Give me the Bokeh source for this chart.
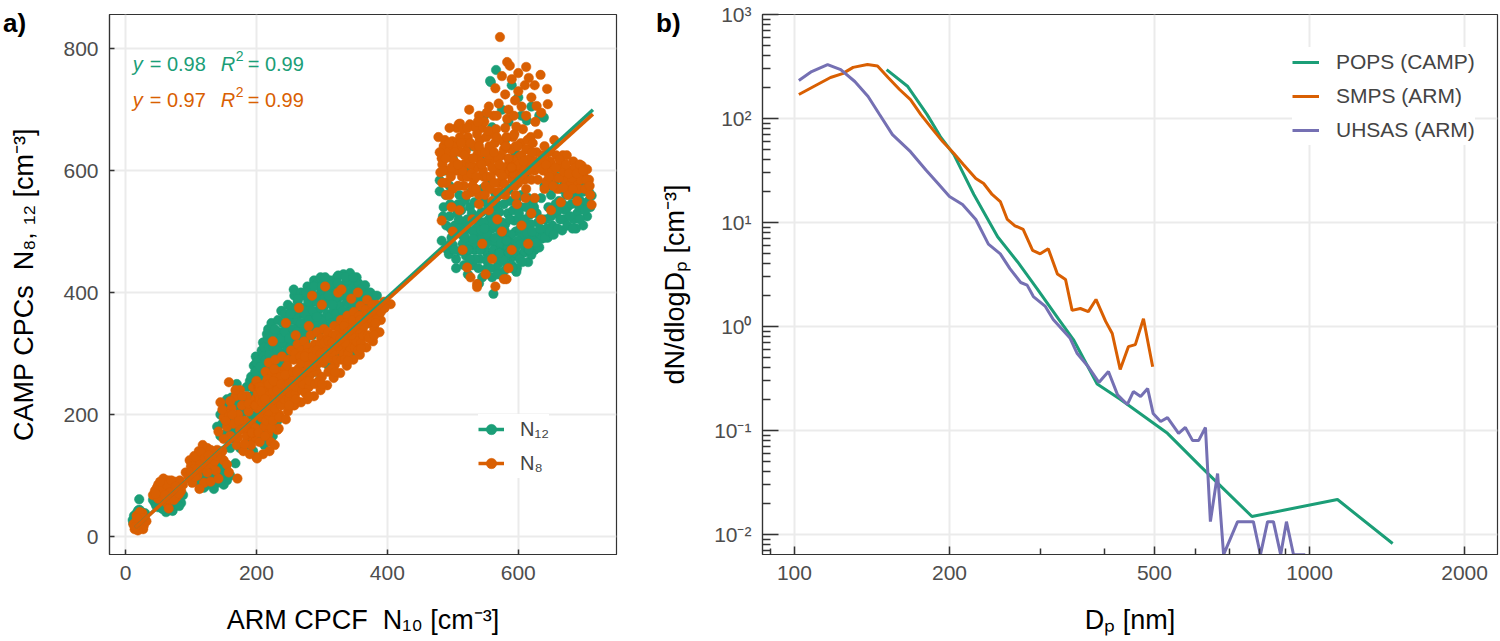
from bokeh.plotting import figure
from bokeh.models import (Range1d, FixedTicker, CustomJSTickFormatter, NumeralTickFormatter,
                          Legend, LegendItem, Label, Div)
from bokeh.layouts import row
from bokeh.embed import file_html
from bokeh.resources import INLINE

GREEN = "#1b9e77"
ORANGE = "#d95f02"
PURPLE = "#7570b3"
FONT = "Liberation Sans"

# ---------------- panel a) data: (ARM CPCF N10, CAMP CPC) pairs
N12_A = [(12,22),(15,30),(18,25),(20,35),(22,28),(25,40),(14,18),(17,38),(24,20),(28,33),(21,44),(26,27),
         (13,34),(19,15),(30,38),(21,61),(11,27),(16,28),(23,34),(19,42)]
N8_A = [(14,12),(18,18),(22,14),(25,22),(20,28),(16,24),(28,18),(30,28),(12,20),(24,32),(27,12),(19,10),
        (32,25),(17,34),(26,38),(22,40),(20,20),(23,26),(15,16),(26,30),(18,30)]
N12_B = [(45,55),(50,48),(55,62),(60,52),(65,45),(70,58),(75,50),(80,62),(58,70),(68,68),(85,55),(48,65),
         (62,40),(72,42),(78,72),(52,75),(88,68),(42,60),(66,60),(56,50),(53,57),(63,58),(73,53),(47,50),
         (57,45),(67,52),(77,58),(82,50)]
N8_B = [(42,68),(48,80),(55,88),(60,78),(65,92),(70,85),(75,90),(80,80),(85,75),(52,72),(62,66),(72,74),
        (88,85),(58,95),(45,75),(68,78),(78,65),(83,92),(50,62),(63,55),(74,60),(66,46),(50,85),(57,80),
        (63,85),(70,92),(77,82),(82,70),(53,90),(67,72),(60,68),(46,70)]
N12_C = [(110,90),(118,100),(125,85),(132,95),(140,88),(148,100),(155,92),(128,110),(138,115),(145,108),
         (120,80),(135,78),(150,85),(160,100),(115,105),(142,122),(130,125),(122,95),(153,112),(168,120),
         (105,95),(137,102),(126,118),(146,93),(112,115),(116,92),(124,102),(134,88),(144,96),(152,105),
         (128,98),(140,112),(118,120),(133,105),(147,115)]
N8_C = [(92,105),(98,125),(105,132),(112,140),(118,150),(125,145),(132,138),(100,115),(108,120),(115,128),
        (122,135),(128,125),(135,130),(140,142),(145,135),(96,98),(104,110),(110,100),(118,112),(125,105),
        (133,118),(138,108),(142,95),(150,125),(155,118),(158,105),(120,88),(113,78),(130,90),(171,95),
        (148,140),(102,88),(100,105),(108,130),(116,138),(124,118),(130,142),(106,98),(114,118),(121,128),
        (136,124),(127,133),(110,110),(140,132)]
N12_D = [(145,200),(150,215),(155,225),(160,205),(165,220),(170,235),(148,185),(158,190),(168,195),(175,210),
         (180,225),(185,245),(190,230),(195,215),(200,200),(205,185),(210,170),(215,160),(220,175),(225,165),
         (230,180),(212,150),(198,165),(188,175),(178,180),(165,160),(155,170),(145,165),(175,145),(185,150),
         (195,140),(160,145),(140,180),(205,230),(215,205),(225,195),(190,255),(200,248),(232,190),(170,250),
         (152,205),(162,228),(172,218),(182,205),(192,198),(202,188),(212,195),(222,185),(207,165),(187,160),
         (167,175),(177,195),(157,180),(217,220),(196,232)]
N8_D = [(150,195),(155,180),(162,210),(168,230),(172,200),(178,215),(182,190),(188,205),(192,185),(198,178),
        (202,210),(208,195),(212,180),(218,168),(222,155),(228,150),(232,175),(220,140),(210,135),(200,130),
        (190,135),(180,140),(170,150),(160,165),(150,160),(142,172),(185,165),(195,160),(205,155),(215,190),
        (225,210),(175,175),(165,185),(158,200),(145,220),(158,253),(234,177),(201,128),(235,200),(185,230),
        (195,245),(175,240),(153,190),(163,200),(173,190),(183,178),(193,170),(203,170),(213,165),(223,178),
        (228,195),(218,200),(208,215),(198,225),(188,218),(178,230),(168,240),(148,208),(160,222),(192,150),
        (182,152),(172,162)]
N12_E = [(192,262),(196,280),(199,295),(194,245),(203,270),(206,290),(208,305),(204,255),(210,318),
         (213,280),(215,300),(217,325),(214,265),(218,340),(212,310),(222,285),(224,305),(226,330),(223,350),
         (228,295),(227,318),(232,290),(234,312),(236,335),(233,355),(238,370),(237,300),(231,325),
         (242,300),(244,320),(246,345),(243,365),(248,380),(247,310),(241,335),(252,310),(254,330),(256,355),
         (253,375),(258,395),(257,405),(251,340),(259,320),(262,320),(264,345),(266,365),(263,385),(268,400),
         (267,335),(261,355),(272,330),(274,350),(276,375),(273,395),(278,410),(277,340),(271,365),
         (282,340),(284,360),(286,385),(283,405),(288,420),(287,350),(281,372),(292,345),(294,370),(296,395),
         (293,415),(298,425),(297,358),(291,385),(302,355),(304,378),(306,400),(303,418),(308,365),(307,390),
         (312,360),(314,385),(316,405),(313,420),(318,370),(317,395),(322,365),(324,390),(326,410),(323,425),
         (328,378),(327,345),(332,370),(334,395),(336,415),(333,430),(338,385),(337,350),(342,380),(344,400),
         (346,420),(343,432),(348,360),(347,410),(352,375),(354,395),(356,415),(353,425),(358,385),(357,355),
         (362,380),(364,400),(366,412),(368,365),(367,390),(372,385),(374,400),(376,370),(378,395),(371,350),
         (382,380),(384,395),(386,372),(230,250),(250,260),(270,280),(300,290),(320,300),(340,320),(260,240),
         (290,270),(310,280),(345,300),(216,332),
         (200,285),(207,262),(211,295),(219,310),(221,272),(229,338),(235,280),(239,318),(245,290),(249,355),
         (255,300),(259,365),(265,310),(269,375),(275,320),(279,385),(285,330),(289,395),(295,335),(299,405),
         (305,345),(309,410),(315,350),(319,415),(325,355),(329,400),(335,362),(339,420),(345,370),(349,390),
         (355,368),(359,405),(365,372),(369,395),(375,380),(379,362),(305,425),(325,428),(280,395),(260,372),
         (198,270),(206,278),(214,290),(220,298),(226,310),(232,305),(238,325),(244,335),(250,325),(256,340),
         (262,335),(268,350),(274,365),(280,355),(286,370),(292,360),(298,375),(304,390),(310,395),(316,380),
         (322,400),(328,395),(334,405),(340,395),(346,385),(352,400),(358,395),(364,390),(370,375),(252,365),
         (264,390),(276,400),(288,410),(300,410),(312,412),(324,415),(336,425),(348,425),(240,350),(228,340)]
N8_E = [(198,215),(202,235),(200,255),(205,225),(203,245),(208,210),(210,230),(212,250),(214,270),(209,220),
        (213,240),(218,205),(220,225),(222,245),(224,265),(219,285),(223,215),(228,210),(230,230),(232,250),
        (234,270),(229,290),(233,220),(231,260),(238,215),(240,235),(242,255),(244,275),(239,295),(243,225),
        (241,265),(248,205),(250,225),(252,245),(254,265),(249,290),(253,305),(251,235),(258,215),(260,235),
        (262,255),(264,275),(259,300),(263,315),(261,245),(268,220),(270,240),(272,260),(274,285),(269,305),
        (273,320),(271,250),(278,225),(280,245),(282,265),(284,290),(279,310),(283,330),(281,255),(288,230),
        (290,250),(292,270),(294,295),(289,315),(293,335),(291,280),(298,240),(300,262),(302,285),(304,305),
        (299,325),(303,340),(308,248),(310,270),(312,292),(314,315),(309,335),(313,300),(318,260),(320,282),
        (322,305),(324,325),(319,345),(323,290),(328,268),(330,290),(332,312),(334,335),(329,355),(333,300),
        (338,280),(340,300),(342,322),(344,345),(339,362),(343,310),(348,290),(350,310),(352,330),(354,352),
        (349,368),(353,320),(358,298),(360,318),(362,340),(364,360),(359,378),(363,330),(368,310),(370,330),
        (372,350),(374,372),(369,388),(378,320),(380,340),(382,362),(384,380),(379,352),(388,335),(390,355),
        (392,372),(395,385),(405,381),(225,320),(245,350),(265,375),(285,395),(305,410),(325,400),(345,390),
        (300,380),(280,345),(260,330),(330,405),(355,400),(225,190),(235,195),(245,192),
        (205,245),(215,230),(217,258),(225,238),(227,275),(235,242),(237,262),(245,245),(247,280),(255,255),
        (257,290),(265,262),(267,295),(275,270),(277,300),(285,278),(287,305),(295,285),(297,315),(305,292),
        (307,322),(315,302),(317,330),(325,312),(327,340),(335,318),(337,350),(345,330),(347,355),(355,340),
        (357,362),(365,350),(367,372),(375,358),(377,380),(385,360),(387,378),(255,215),(275,235),(295,255),
        (315,275),(335,290),(355,305),(372,325),
        (207,238),(213,225),(219,250),(226,255),(232,240),(238,250),(244,265),(250,250),(256,270),(262,270),
        (268,285),(274,295),(280,280),(286,295),(292,305),(298,300),(304,318),(310,320),(316,318),(322,330),
        (328,325),(334,345),(340,335),(346,340),(352,345),(358,355),(364,345),(370,365),(376,368),(382,350),
        (390,368),(396,375),(260,225),(280,230),(300,250),(320,270),(340,288),(360,308),(380,330),(250,215)]
N12_F = [(492,470),(498,490),(503,510),(507,530),(512,545),(505,455),(515,480),(518,500),(522,520),(526,540),
         (520,460),(530,445),(533,470),(536,492),(540,512),(544,532),(548,550),(541,455),(550,438),(553,462),
         (556,484),(560,505),(563,525),(567,545),(560,425),(570,448),(573,470),(576,492),(580,512),(584,530),
         (588,550),(578,435),(590,458),(593,480),(596,500),(600,520),(604,540),(598,440),(608,465),(611,488),
         (614,508),(618,528),(622,548),(615,450),(625,470),(628,495),(630,515),(495,525),(510,560),(528,565),
         (545,570),(565,562),(585,568),(605,560),(562,398),(597,434),(523,430),(540,415),(583,445),(555,520),
         (535,505),(575,515),(595,465),(515,515),(546,490),(606,495),(566,478),(586,492),(620,490),
         (480,584),(480,566),(483,485),(494,463),(486,540),(490,510),(488,600),(495,575),
         (632,474),(638,500),(642,520),(646,540),(650,560),(655,580),(645,490),(652,510),(658,530),(662,550),
         (667,502),(670,520),(675,540),(680,560),(685,575),(690,530),(695,550),(699,510),(703,545),(708,565),
         (712,559),(700,575),(665,570),(688,505),(640,575),(660,590),(678,590),(696,590),(710,540),
         (520,600),(545,615),(570,600),(595,630),(610,595),(530,640),(500,620),(580,650),(620,615),(555,585),
         (560,671),(639,687),(585,680),(613,682),(566,765),(558,745),(557,747),(600,720),(620,705),(575,700),
         (590,740),(632,690),(605,690),(548,690),
         (500,478),(506,498),(511,468),(516,492),(521,508),(527,482),(531,500),(537,478),(543,502),(549,470),
         (553,495),(558,515),(564,490),(569,462),(574,482),(579,502),(584,475),(589,495),(594,518),(599,485),
         (603,505),(609,478),(613,498),(619,512),(624,485),(508,545),(519,552),(533,548),(553,545),(571,532),
         (592,535),(612,540),(628,530),(539,440),(552,452),(566,440),(580,458),(602,455),(517,445),(505,440),
         (545,425),(575,428),(590,445),(620,462),(635,488),(643,505),(650,525),(657,545),(664,520),(672,535),
         (681,545),(693,540),(705,525),(675,510),(660,505),(685,520),(698,565),(670,578),(650,575),(635,555),
         (497,505),(502,470),(509,520),(513,535),(524,470),(529,530),(534,455),(538,525),(547,515),(551,480),
         (557,440),(562,470),(565,510),(572,500),(577,455),(582,485),(587,520),(591,440),(597,475),(601,530),
         (606,450),(610,520),(616,470),(621,500),(627,482),(633,505),(637,520),(641,490),(648,500),(654,495),
         (661,535),(668,545),(673,560),(679,525),(683,505),(690,560),(694,520),(702,535),(707,550),(526,455),
         (519,490),(542,470),(557,530),(571,465),(586,465),(604,480),(568,430),(548,505),(531,488),(511,505),
         (503,540),(496,545),(489,560),(485,525),(560,540),(578,545),(597,552),(615,555),(624,540)]
N8_F = [(478,655),(481,597),(483,620),(486,640),(490,580),(493,600),(496,625),(499,648),(504,646),(506,670),
        (509,676),(511,677),(514,590),(517,610),(520,632),(523,655),(526,676),(529,565),(532,585),(535,605),
        (538,628),(541,650),(544,670),(547,590),(550,575),(553,615),(556,640),(559,660),(562,690),(565,600),
        (568,565),(571,580),(574,625),(577,648),(580,670),(583,595),(586,612),(589,635),(592,655),(595,575),
        (598,600),(601,622),(604,645),(607,668),(610,585),(613,610),(616,635),(619,655),(490,560),(500,570),
        (512,630),(527,610),(545,630),(562,620),(578,605),(592,618),(505,600),(522,590),(540,560),(560,550),
        (580,560),(600,580),(620,585),(540,690),(525,700),(495,670),
        (572,819),(583,778),(587,772),(575,755),(634,757),(616,752),(644,734),(645,709),(628,706),(590,750),
        (600,730),(610,740),(595,715),(580,725),(565,735),(620,720),(605,705),(585,700),(635,695),(570,710),
        (555,705),(600,760),(625,740),(612,770),
        (625,600),(630,585),(635,615),(640,570),(645,598),(650,612),(655,590),(660,570),(664,605),(668,625),
        (672,585),(676,560),(680,600),(684,615),(688,580),(692,570),(697,608),(705,602),(712,544),(674,625),
        (700,590),(708,585),(658,625),(690,550),(646,630),(665,548),(685,595),(640,640),(655,650),(630,660),
        (483,518),(522,441),(537,414),(582,422),(527,425),(537,409),(578,422),(500,500),(515,470),(530,520),
        (545,480),(560,455),(575,500),(590,470),(605,510),(620,530),(555,535),(510,535),(568,520),(598,545),
        (540,545),(625,555),(615,480),(498,540),(635,520),(650,535),(585,440),(550,430),(565,410),
        (484,610),(488,650),(492,630),(497,590),(502,615),(507,635),(511,655),(515,600),(519,645),(524,620),
        (528,595),(533,640),(537,660),(542,615),(546,600),(551,655),(555,625),(560,605),(564,645),(569,620),
        (573,595),(578,635),(582,655),(587,600),(591,585),(596,640),(600,610),(605,625),(609,600),(614,650),
        (618,620),(500,640),(516,668),(532,672),(548,680),(566,668),(583,685),(597,672),(622,645),(628,630),
        (638,600),(643,582),(652,600),(662,588),(670,598),(678,575),(687,605),(695,585),(702,570),(710,560),
        (666,612),(682,588),(648,615),(530,575),(552,590),(572,565),(593,595),(612,570),(557,570),(517,575),
        (480,630),(485,600),(489,620),(494,645),(498,605),(503,630),(508,610),(513,645),(518,625),(522,670),
        (527,645),(531,620),(536,590),(540,640),(544,610),(549,630),(554,665),(558,590),(563,630),(567,655),
        (571,610),(576,590),(581,640),(585,620),(590,605),(594,660),(599,640),(603,590),(608,615),(612,635),
        (617,600),(621,630),(626,615),(632,605),(637,625),(642,610),(647,590),(653,575),(657,605),(663,618),
        (669,572),(673,610),(677,595),(683,570),(689,595),(694,610),(699,600),(704,585),(709,575),(484,580),
        (495,560),(508,575),(521,560),(535,570),(549,560),(563,580),(579,578),(596,560),(611,555),(567,690),
        (552,695),(538,680),(593,690),(612,690),(626,680)]

SLOPE_N12 = 0.98
SLOPE_N8 = 0.97
R2_N12 = 0.99
R2_N8 = 0.99
FIT_X = [15, 714]

A_XTICKS = [0, 200, 400, 600]
A_YTICKS = [0, 200, 400, 600, 800]

# ---------------- panel b) data: size distributions
POPS_D = [151,166,181,192,204,223,248,271,296,326,348,387,429,530,615,773,1133,1450]
POPS_V = [295,203,109,67,45,18.6,7.3,4.2,2.3,1.17,0.75,0.28,0.20,0.094,0.045,0.0149,0.0217,0.0082]
SMPS_D = [102,109,117.5,124,130,138.6,145,152,160,168,176,185,194,204,213,225,233,242,251,259,268,278,
          290,300,311,324,336,346,359,372,385,402,414,429,445,459,476,496]
SMPS_V = [170,203,248,270,310,330,320,248,190,152,109,80,60,46,36,26.5,23.7,18.6,15.9,10.7,9.3,8.6,
          5.4,5.0,5.6,3.2,2.83,1.43,1.49,1.39,1.82,1.12,0.857,0.386,0.64,0.67,1.19,0.41]
UHSAS_D = [102,108,116,123,131,139,146,155,168,180,190,200,212,225,238,251,262,275,283,291,307,318,
           343,354,372,390,407,424,443,455,470,485,497,514,530,557,574,593,609,628,642,663,681,725,778,
           803,829,851,879,902,931,981]
UHSAS_V = [232,283,330,295,227,163,111,70,48,32,23.7,17.8,14.9,10.7,6.2,5.0,3.6,2.65,2.5,1.94,1.56,1.17,
           0.77,0.55,0.41,0.29,0.37,0.22,0.178,0.237,0.212,0.253,0.146,0.122,0.133,0.094,0.107,0.080,0.080,
           0.107,0.0133,0.0386,0.0064,0.0133,0.0133,0.0064,0.0133,0.0133,0.0064,0.0133,0.0064,0.0064]

B_XTICKS = [100, 200, 500, 1000, 2000]
B_XMINOR = [90, 300, 400, 600, 700, 800, 900]
B_YTICKS = [0.01, 0.1, 1, 10, 100, 1000]
B_YMINOR = [k * 10.0 ** e for e in range(-3, 3) for k in range(2, 10)]


def xs(pts):
    return [p[0] for p in pts]


def ys(pts):
    return [p[1] for p in pts]


def style_axes(p, tick_in_major, tick_in_minor):
    for ax in (p.xaxis[0], p.yaxis[0]):
        ax.axis_line_color = "#333333"
        ax.axis_line_width = 1.2
        ax.major_tick_line_color = "#333333"
        ax.minor_tick_line_color = "#333333"
        ax.major_tick_line_width = 1.5
        ax.minor_tick_line_width = 1.5
        ax.major_tick_out = 0
        ax.major_tick_in = tick_in_major
        ax.minor_tick_out = 0
        ax.minor_tick_in = tick_in_minor
        ax.major_label_text_font = FONT
        ax.major_label_text_font_size = "21px"
        ax.major_label_text_color = "#4d4d4d"
        ax.major_label_standoff = 11
        ax.axis_label_text_font = FONT
        ax.axis_label_text_font_size = "27px"
        ax.axis_label_text_font_style = "normal"
        ax.axis_label_text_color = "#000000"
    p.xaxis[0].axis_label_standoff = 22
    p.yaxis[0].axis_label_standoff = 21
    p.outline_line_color = "#333333"
    p.outline_line_width = 1.2
    for g in (p.xgrid[0], p.ygrid[0]):
        g.grid_line_color = "#ebebeb"
        g.grid_line_width = 2


# ================= panel a
p1 = figure(width=640, height=641, x_range=Range1d(-24.4, 750), y_range=Range1d(-29.5, 856),
            output_backend="svg", toolbar_location=None,
            min_border_left=109, min_border_right=24, min_border_top=14, min_border_bottom=87)
p1.background_fill_color = "white"
p1.border_fill_color = "white"

n12 = N12_A + N12_B + N12_C + N12_D + N12_E + N12_F
n8 = N8_A + N8_B + N8_C + N8_D + N8_E + N8_F
r12 = p1.scatter(xs(n12), ys(n12), size=9.5, fill_color=GREEN, line_color=GREEN, line_width=0.5)
r8 = p1.scatter(xs(n8), ys(n8), size=9.5, fill_color=ORANGE, line_color=ORANGE, line_width=0.5)
l12 = p1.line(FIT_X, [SLOPE_N12 * x for x in FIT_X], line_color=GREEN, line_width=3.5)
l8 = p1.line(FIT_X, [SLOPE_N8 * x for x in FIT_X], line_color=ORANGE, line_width=3.5)

tk = FixedTicker(ticks=A_XTICKS)
p1.xaxis[0].ticker = tk
p1.xgrid[0].ticker = tk
tky = FixedTicker(ticks=A_YTICKS)
p1.yaxis[0].ticker = tky
p1.ygrid[0].ticker = tky
style_axes(p1, 5, 0)
p1.xaxis[0].minor_tick_line_color = None
p1.yaxis[0].minor_tick_line_color = None
p1.xaxis[0].axis_label = "ARM CPCF\u00a0 N\u2081\u2080 [cm\u207b\u00b3]"
p1.yaxis[0].axis_label = "CAMP CPCs\u00a0 N\u2088, \u2081\u2082 [cm\u207b\u00b3]"

leg1 = Legend(items=[LegendItem(label="N\u2081\u2082", renderers=[l12, r12]),
                     LegendItem(label="N\u2088", renderers=[l8, r8])],
              location=(369, 76), orientation="vertical",
              label_text_font=FONT, label_text_font_size="20px",
              glyph_width=26, glyph_height=30, label_height=30, spacing=4,
              padding=5, margin=0, label_standoff=16,
              background_fill_color="white", background_fill_alpha=1.0,
              border_line_color=None)
p1.add_layout(leg1, "center")


def eq_label(p, y, slope, r2, color):
    x0 = 11
    common = dict(x=x0, y=y, text_font=FONT, text_color=color, text_baseline="middle",
                  text_align="left")
    p.add_layout(Label(text="y", text_font_size="20px", text_font_style="italic", x_offset=0, **common))
    p.add_layout(Label(text="= %.2f" % slope, text_font_size="20px", x_offset=17, **common))
    p.add_layout(Label(text="R", text_font_size="20px", text_font_style="italic", x_offset=88, **common))
    p.add_layout(Label(text="2", text_font_size="14px", x_offset=103, y_offset=8, **common))
    p.add_layout(Label(text="= %.2f" % r2, text_font_size="20px", x_offset=115, **common))


eq_label(p1, 775, SLOPE_N12, R2_N12, GREEN)
eq_label(p1, 716, SLOPE_N8, R2_N8, ORANGE)

# ================= panel b
p2 = figure(width=860, height=641, x_axis_type="log", y_axis_type="log",
            x_range=Range1d(86.7, 2317), y_range=Range1d(0.006427, 1000),
            output_backend="svg", toolbar_location=None,
            min_border_left=122, min_border_right=3, min_border_top=14, min_border_bottom=87)
p2.background_fill_color = "white"
p2.border_fill_color = "white"

lp = p2.line(POPS_D, POPS_V, line_color=GREEN, line_width=3)
ls = p2.line(SMPS_D, SMPS_V, line_color=ORANGE, line_width=3)
lu = p2.line(UHSAS_D, UHSAS_V, line_color=PURPLE, line_width=3)

tkx2 = FixedTicker(ticks=B_XTICKS, minor_ticks=B_XMINOR)
p2.xaxis[0].ticker = tkx2
p2.xgrid[0].ticker = tkx2
tky2 = FixedTicker(ticks=B_YTICKS, minor_ticks=B_YMINOR)
p2.yaxis[0].ticker = tky2
p2.ygrid[0].ticker = tky2
style_axes(p2, 16, 8)
p2.xaxis[0].major_tick_in = 8
p2.xaxis[0].minor_tick_in = 6
p2.xaxis[0].formatter = NumeralTickFormatter(format="0")
p2.yaxis[0].formatter = CustomJSTickFormatter(code="""
const e = Math.round(Math.log10(tick));
const m = {'-':'\u207b','0':'\u2070','1':'\u00b9','2':'\u00b2','3':'\u00b3','4':'\u2074',
           '5':'\u2075','6':'\u2076','7':'\u2077','8':'\u2078','9':'\u2079'};
return '10' + String(e).split('').map(c => m[c]).join('');
""")
p2.xaxis[0].axis_label = "D\u209a [nm]"
p2.yaxis[0].axis_label = "dN/dlogD\u209a [cm\u207b\u00b3]"

leg2 = Legend(items=[LegendItem(label="POPS (CAMP)", renderers=[lp]),
                     LegendItem(label="SMPS (ARM)", renderers=[ls]),
                     LegendItem(label="UHSAS (ARM)", renderers=[lu])],
              location=(530, 409), orientation="vertical",
              label_text_font=FONT, label_text_font_size="21px",
              glyph_width=27, glyph_height=30, label_height=30, spacing=4,
              padding=12, margin=0, label_standoff=17,
              background_fill_color="white", background_fill_alpha=1.0,
              border_line_color=None)
p2.add_layout(leg2, "center")

# panel tags, placed over the layout
tag_style = {"position": "absolute", "font-family": FONT, "font-size": "26px",
             "font-weight": "bold", "color": "#000000", "line-height": "1", "z-index": "10"}
div_a = Div(text="a)", margin=0, styles=dict(tag_style, left="3px", top="10px"))
div_b = Div(text="b)", margin=0, styles=dict(tag_style, left="656px", top="10px"))

layout = row(p1, p2, div_a, div_b)
open("out.html", "w").write(file_html(layout, INLINE))
